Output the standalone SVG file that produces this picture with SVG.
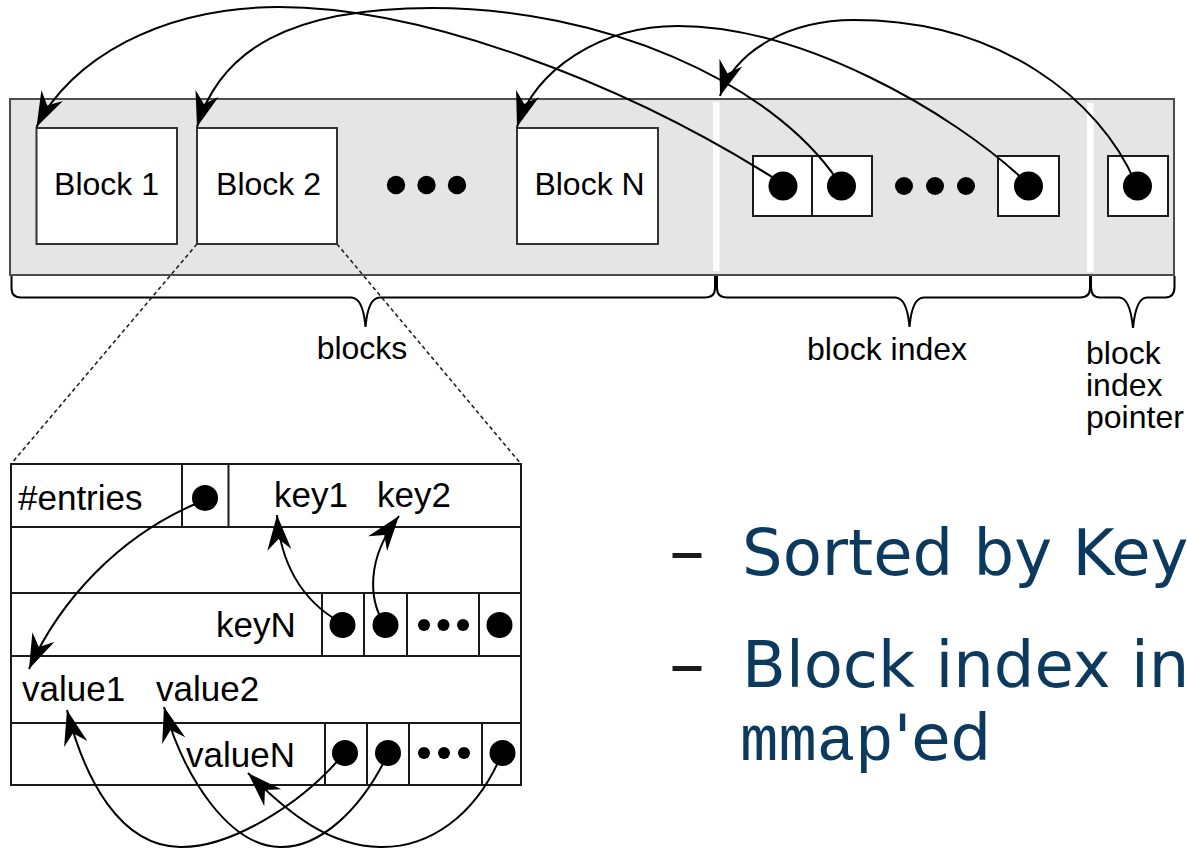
<svg xmlns="http://www.w3.org/2000/svg" width="1187" height="849" viewBox="0 0 1187 849">
  <defs>
    <marker id="arrow" markerUnits="userSpaceOnUse" viewBox="0 0 36 26" markerWidth="36" markerHeight="26" refX="35" refY="13" orient="auto">
      <path d="M35,13 L0,1 L11,13 L0,25 Z" fill="#000"/>
    </marker>
    <style>
      .file { fill: #e5e5e5; stroke: #4d4d4d; stroke-width: 2; }
      .sep { fill: #ffffff; }
      .box { fill: #ffffff; stroke: #333333; stroke-width: 2; }
      .cell { fill: #ffffff; stroke: #1a1a1a; stroke-width: 2; }
      .rule { fill: none; stroke: #1a1a1a; stroke-width: 2; }
      .dot { fill: #000000; }
      .lbl { font-family: "Liberation Sans", Arial, Helvetica, sans-serif; font-size: 32px; fill: #000; }
      .tlbl { font-family: "Liberation Sans", Arial, Helvetica, sans-serif; font-size: 35px; fill: #000; }
      .brace { fill: none; stroke: #000; stroke-width: 2; }
      .zoom { fill: none; stroke: #222; stroke-width: 1.6; stroke-dasharray: 4 3; }
      .link { fill: none; stroke: #000; stroke-width: 2; marker-end: url(#arrow); }
      .bullet { font-family: "DejaVu Sans", Verdana, sans-serif; font-size: 64px; fill: #0b3a5e; }
      .dash { font-family: "DejaVu Sans", Verdana, sans-serif; font-size: 72px; fill: #1a1a1a; }
      .mono { font-family: "Liberation Mono", "Courier New", monospace; }
    </style>
  </defs>

  <!-- whole file strip -->
  <g id="file">
    <rect class="file" x="10" y="99" width="1164" height="176"/>
    <rect class="sep" x="713" y="102" width="6.5" height="169"/>
    <rect class="sep" x="1087" y="103" width="6.5" height="169"/>
  </g>

  <!-- data blocks -->
  <g id="block-1">
    <rect class="box" x="36.5" y="128" width="140.5" height="116"/>
    <text class="lbl" x="106.5" y="195" text-anchor="middle">Block 1</text>
  </g>
  <g id="block-2">
    <rect class="box" x="197" y="128" width="140" height="116"/>
    <text class="lbl" x="268.5" y="195" text-anchor="middle">Block 2</text>
  </g>
  <g id="block-ellipsis">
    <circle class="dot" cx="396" cy="185" r="9.2"/>
    <circle class="dot" cx="426.5" cy="185" r="9.2"/>
    <circle class="dot" cx="457" cy="185" r="9.2"/>
  </g>
  <g id="block-n">
    <rect class="box" x="517" y="128" width="141" height="116"/>
    <text class="lbl" x="589.5" y="195" text-anchor="middle">Block N</text>
  </g>

  <!-- block index entries -->
  <g id="index-entry-1">
    <rect class="cell" x="753" y="156" width="59" height="60"/>
    <circle class="dot" cx="783" cy="186" r="14.5"/>
  </g>
  <g id="index-entry-2">
    <rect class="cell" x="812" y="156" width="60" height="60"/>
    <circle class="dot" cx="841.5" cy="186" r="14.5"/>
  </g>
  <g id="index-ellipsis">
    <circle class="dot" cx="904" cy="186" r="9"/>
    <circle class="dot" cx="935" cy="186" r="9"/>
    <circle class="dot" cx="966" cy="186" r="9"/>
  </g>
  <g id="index-entry-n">
    <rect class="cell" x="998" y="156" width="61" height="60"/>
    <circle class="dot" cx="1028.5" cy="186" r="14.5"/>
  </g>
  <g id="index-pointer">
    <rect class="cell" x="1108" y="156" width="60" height="60"/>
    <circle class="dot" cx="1137.5" cy="186" r="14.5"/>
  </g>

  <!-- section braces -->
  <g id="brace-blocks">
    <path class="brace" d="M11.5,276 L11.5,288 Q11.5,297.5 21,297.5 L351,297.5 Q363,297.5 365.5,327 Q368,297.5 380,297.5 L705,297.5 Q715,297.5 715,288 L715,276"/>
    <text class="lbl" x="362" y="359" text-anchor="middle">blocks</text>
  </g>
  <g id="brace-index">
    <path class="brace" d="M717,276 L717,288 Q717,297.5 727,297.5 L895,297.5 Q907,297.5 909.5,327 Q912,297.5 924,297.5 L1080,297.5 Q1090,297.5 1090,288 L1090,276"/>
    <text class="lbl" x="807" y="360">block index</text>
  </g>
  <g id="brace-pointer">
    <path class="brace" d="M1091,276 L1091,287 Q1091,297.5 1100,297.5 L1119,297.5 Q1130,297.5 1133,328 Q1136,297.5 1147,297.5 L1165,297.5 Q1174.5,297.5 1174.5,287 L1174.5,276"/>
    <text class="lbl" x="1086" y="364" font-size="31">block</text>
    <text class="lbl" x="1086" y="396" font-size="31">index</text>
    <text class="lbl" x="1086" y="428" font-size="31">pointer</text>
  </g>

  <!-- magnified view of a block -->
  <g id="zoom-lines">
    <path class="zoom" d="M197,244 L11,464"/>
    <path class="zoom" d="M337,244 L521,464"/>
  </g>

  <g id="block-detail">
    <rect class="cell" x="11" y="464" width="510" height="321"/>
    <path class="rule" d="M11,527 H521 M11,593 H521 M11,656 H521 M11,723 H521"/>
    <path class="rule" d="M182,464 V527 M228.5,464 V527"/>
    <path class="rule" d="M322,593 V656 M364,593 V656 M407,593 V656 M479,593 V656"/>
    <path class="rule" d="M325,723 V785 M367,723 V785 M409,723 V785 M482,723 V785"/>
  </g>

  <g id="entries-count">
    <text class="tlbl" x="18" y="510" font-size="37">#entries</text>
    <circle class="dot" cx="205" cy="498" r="13"/>
  </g>
  <g id="keys">
    <text class="tlbl" x="274" y="507">key1</text>
    <text class="tlbl" x="377" y="507">key2</text>
    <text class="tlbl" x="216" y="637">keyN</text>
  </g>
  <g id="key-offsets">
    <circle class="dot" cx="342.5" cy="625" r="13"/>
    <circle class="dot" cx="385.5" cy="625" r="13"/>
    <circle class="dot" cx="424" cy="625" r="6"/>
    <circle class="dot" cx="443.5" cy="625" r="6"/>
    <circle class="dot" cx="463" cy="625" r="6"/>
    <circle class="dot" cx="499.5" cy="625" r="13"/>
  </g>
  <g id="values">
    <text class="tlbl" x="22" y="701">value1</text>
    <text class="tlbl" x="156" y="701">value2</text>
    <text class="tlbl" x="186" y="767">valueN</text>
  </g>
  <g id="value-offsets">
    <circle class="dot" cx="345" cy="753" r="13"/>
    <circle class="dot" cx="388" cy="753" r="13"/>
    <circle class="dot" cx="424" cy="753" r="6"/>
    <circle class="dot" cx="444" cy="753" r="6"/>
    <circle class="dot" cx="464" cy="753" r="6"/>
    <circle class="dot" cx="502.5" cy="753" r="13"/>
  </g>

  <!-- pointers -->
  <g id="connectors">
    <path class="link" d="M780,182 C620,80 420,7 279,7 C160,7 70,60 36.5,127"/>
    <path class="link" d="M838,181 C770,80 600,8 432,8 C290,8 220,50 197,127"/>
    <path class="link" d="M1026,182 C950,110 800,26 678,26 C600,26 535,70 517,127"/>
    <path class="link" d="M1135,182 C1100,100 1000,20 854,20 C790,20 735,50 720,96"/>
    <path class="link" d="M200,502 C120,535 60,600 29,669"/>
    <path class="link" d="M340,622 C300,600 280,560 277,515"/>
    <path class="link" d="M383,622 C370,600 365,560 399,516"/>
    <path class="link" d="M341,757 C300,805 230,848 180,847 C120,846 85,780 67,710"/>
    <path class="link" d="M386,758 C360,810 320,848 280,847 C230,846 185,780 164,707"/>
    <path class="link" d="M500,758 C475,815 430,848 380,847 C330,846 290,815 248,773"/>
  </g>

  <!-- notes -->
  <g id="notes">
    <text class="dash" x="669" y="575">–</text>
    <text class="bullet" x="742" y="575">Sorted by Key</text>
    <text class="dash" x="669" y="688">–</text>
    <text class="bullet" x="742" y="687">Block index in</text>
    <text class="bullet" x="740" y="760"><tspan class="mono">mmap</tspan>'ed</text>
  </g>
</svg>
